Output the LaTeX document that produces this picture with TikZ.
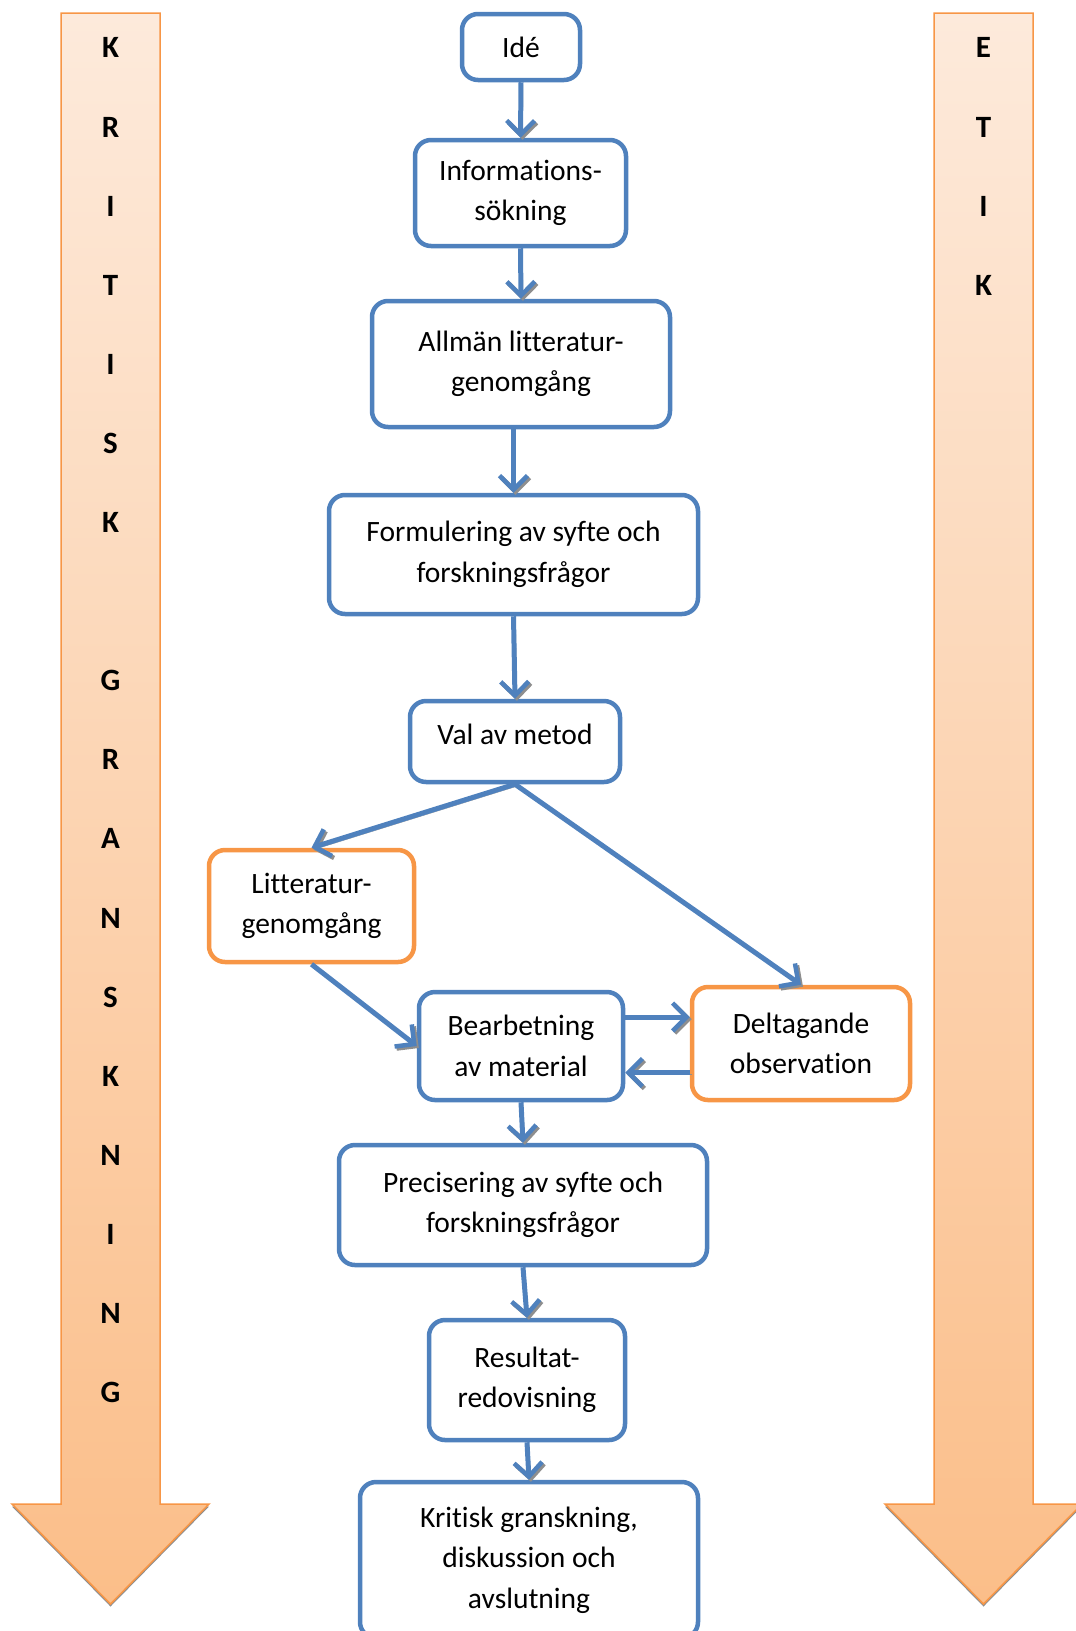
\documentclass[tikz,border=0pt]{standalone}
\usepackage{fontspec}
\setmainfont{Carlito}[Ligatures={NoCommon}]
\usepackage{tikz}
\usetikzlibrary{arrows.meta}
\definecolor{flow}{HTML}{4F81BD}
\definecolor{side}{HTML}{F79646}
\definecolor{peach}{HTML}{FDEADB}
\definecolor{peach2}{HTML}{FBBE89}
\definecolor{shadowgray}{HTML}{8E8E8E}

\begin{document}
\begin{tikzpicture}[
  x=1pt, y=-1pt,
  box/.style={draw=flow, line width=4.5pt, fill=white, rounded corners=16pt, inner sep=0pt,
              align=center, font=\fontsize{29.5}{40.5}\selectfont},
  aside/.style={box, draw=side},
  arr/.style={-{Straight Barb[length=14pt,width=28pt,line width=4.5pt]}, draw=flow, line width=5pt,
              preaction={draw=shadowgray, transform canvas={shift={(2pt,-2pt)}}}},
  band/.style={draw=side, line width=1.5pt, top color=peach, bottom color=peach2},
  letter/.style={font=\fontsize{31}{31}\selectfont\bfseries}
]
\useasboundingbox (0,0) rectangle (1076,1631);

% the two side arrows
\foreach \cx in {110.5,983.5}{
  \fill[shadowgray, yshift=-2.5pt] ({\cx-49.5},13) -- ({\cx+49.5},13) -- ({\cx+49.5},1504) -- ({\cx+98.5},1504)
    -- (\cx,1604) -- ({\cx-98.5},1504) -- ({\cx-49.5},1504) -- cycle;
  \path[band] ({\cx-49.5},13) -- ({\cx+49.5},13) -- ({\cx+49.5},1504) -- ({\cx+98.5},1504)
    -- (\cx,1604) -- ({\cx-98.5},1504) -- ({\cx-49.5},1504) -- cycle;
}
\foreach \c [count=\i from 0] in {K,R,I,T,I,S,K}
  \node[letter] (kr\i) at (110.5,{47.9+79.1*\i}) {\c};
\foreach \c [count=\i from 8] in {G,R,A,N,S,K,N,I,N,G}
  \node[letter] (gr\i) at (110.5,{47.9+79.1*\i}) {\c};
\foreach \c [count=\i from 0] in {E,T,I,K}
  \node[letter] (et\i) at (983.5,{47.9+79.1*\i}) {\c};

% process boxes
\node[box, minimum width=118pt, minimum height=66pt] (ide) at (521,47) {Idé};
\node[box, minimum width=211pt, minimum height=106pt] (info) at (520.5,193) {Informations-\\sökning};
\node[box, minimum width=298pt, minimum height=126pt] (allman) at (521,364) {Allmän litteratur-\\genomgång};
\node[box, minimum width=369pt, minimum height=119pt] (form) at (513.5,554.5) {Formulering av syfte och\\forskningsfrågor};
\node[box, minimum width=210pt, minimum height=81pt, text depth=15pt] (val) at (515,741.5) {Val av metod};
\node[aside, minimum width=205pt, minimum height=112pt] (litt) at (311.5,906) {Litteratur-\\genomgång};
\node[box, minimum width=204pt, minimum height=108pt] (bearb) at (521,1046) {Bearbetning\\av material};
\node[aside, minimum width=218pt, minimum height=113pt] (delt) at (801,1043.5) {Deltagande\\observation};
\node[box, minimum width=368pt, minimum height=120pt] (prec) at (523,1205) {Precisering av syfte och\\forskningsfrågor};
\node[box, minimum width=196pt, minimum height=120pt] (res) at (527,1380) {Resultat-\\redovisning};
\node[box, minimum width=338pt, minimum height=156pt] (krit) at (529,1560) {Kritisk granskning,\\diskussion och\\avslutning};

\draw[arr] (ide.south) -- (info.north);
\draw[arr] (info.south) -- (allman.north);
\draw[arr] (allman.south -| form.north) -- (form.north);
\draw[arr] (form.south) -- (val.north);
\draw[arr] (val.south) -- (litt.north);
\draw[arr] (val.south) -- (delt.north);
\draw[arr] (litt.south) -- (bearb.west);
\draw[arr] ([yshift=29pt]bearb.east) -- ([yshift=29pt]bearb.east -| delt.west);
\draw[arr] ([yshift=-29pt]delt.west) -- ([yshift=-29pt]delt.west -| bearb.east);
\draw[arr] (bearb.south) -- (prec.north);
\draw[arr] (prec.south) -- (res.north);
\draw[arr] (res.south) -- (krit.north);
\end{tikzpicture}
\end{document}
